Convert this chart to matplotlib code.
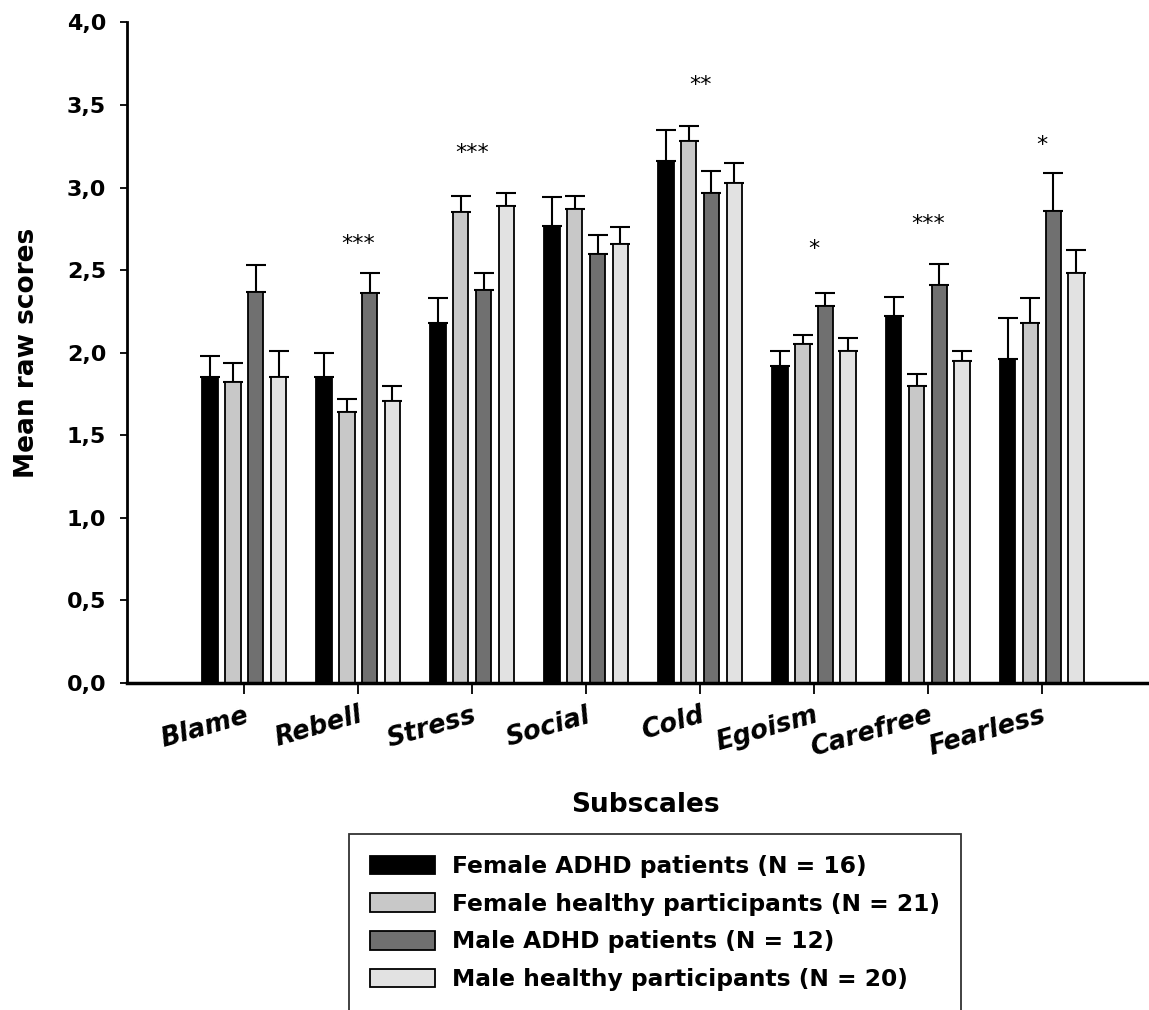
import numpy as np
import matplotlib.pyplot as plt
from matplotlib.ticker import FuncFormatter

subscales = ['Blame', 'Rebell', 'Stress', 'Social', 'Cold', 'Egoism', 'Carefree', 'Fearless']
groups = ['Female ADHD patients (N = 16)', 'Female healthy participants (N = 21)',
          'Male ADHD patients (N = 12)', 'Male healthy participants (N = 20)']

fem_adhd = [1.85, 1.85, 2.18, 2.77, 3.16, 1.92, 2.22, 1.96]
fem_adhd_err = [0.13, 0.15, 0.15, 0.17, 0.19, 0.09, 0.12, 0.25]
fem_healthy = [1.82, 1.64, 2.85, 2.87, 3.28, 2.05, 1.80, 2.18]
fem_healthy_err = [0.12, 0.08, 0.10, 0.08, 0.09, 0.06, 0.07, 0.15]
male_adhd = [2.37, 2.36, 2.38, 2.60, 2.97, 2.28, 2.41, 2.86]
male_adhd_err = [0.16, 0.12, 0.10, 0.11, 0.13, 0.08, 0.13, 0.23]
male_healthy = [1.85, 1.71, 2.89, 2.66, 3.03, 2.01, 1.95, 2.48]
male_healthy_err = [0.16, 0.09, 0.08, 0.10, 0.12, 0.08, 0.06, 0.14]

stars = ['', '***', '***', '', '**', '*', '***', '*']
star_y = [0, 2.66, 3.21, 0, 3.62, 2.63, 2.78, 3.26]

colors = ['#000000', '#c8c8c8', '#707070', '#e2e2e2']
means = [fem_adhd, fem_healthy, male_adhd, male_healthy]
errs = [fem_adhd_err, fem_healthy_err, male_adhd_err, male_healthy_err]

plt.rcParams['font.family'] = ['DejaVu Sans']

fig = plt.figure(figsize=(11.49, 10.10), dpi=100)
ax = fig.add_axes([0.1105, 0.3238, 0.8875, 0.654])

x = np.arange(len(subscales))
w = 0.135
step = 0.2
handles = []
for i in range(4):
    pos = x + (i - 1.5) * step
    b = ax.bar(pos, means[i], width=w, color=colors[i], edgecolor='black', linewidth=1.3,
               label=groups[i], zorder=2)
    ax.errorbar(pos, means[i], yerr=[np.zeros(len(x)), errs[i]], fmt='none',
                ecolor='black', elinewidth=1.5, capsize=7, capthick=1.5, zorder=1)
    handles.append(b)

for xi, s, yv in zip(x, stars, star_y):
    if s:
        ax.text(xi, yv, s, ha='center', va='center', fontsize=16)

ax.set_xlim(-1.03, 7.92)
ax.set_ylim(0, 4.0)
ax.set_yticks(np.arange(0, 4.01, 0.5))
ax.yaxis.set_major_formatter(FuncFormatter(lambda v, p: f'{v:.1f}'.replace('.', ',')))
ax.set_xticks(x)
ax.set_xticklabels(subscales, rotation=16, ha='right', rotation_mode='anchor',
                   fontsize=18.5, fontweight='bold', fontstyle='italic')
for t in ax.get_yticklabels():
    t.set_fontsize(16)
    t.set_fontweight('bold')

ax.spines['top'].set_visible(False)
ax.spines['right'].set_visible(False)
ax.spines['left'].set_linewidth(2)
ax.spines['bottom'].set_linewidth(2.5)
ax.tick_params(axis='y', length=5, width=1.3, pad=10)
ax.tick_params(axis='x', length=8, width=1.3, pad=6)

ax.set_ylabel('Mean raw scores', fontsize=19, fontweight='bold')
ax.yaxis.set_label_coords(-0.085, 0.5)
ax.set_xlabel('Subscales', fontsize=19, fontweight='bold', va='center')
ax.xaxis.set_label_coords(0.508, -0.1846)

leg = fig.legend(handles=handles, loc='upper left', bbox_to_anchor=(349 / 1149, 1 - 834 / 1010),
                 prop={'weight': 'bold', 'size': 16.8}, frameon=True, fancybox=False,
                 edgecolor='black', handlelength=2.8, handleheight=0.86, labelspacing=0.63,
                 borderpad=0.9, handletextpad=0.72, borderaxespad=0)
leg.get_frame().set_linewidth(1.3)

fig.savefig('out.png', dpi=100)
